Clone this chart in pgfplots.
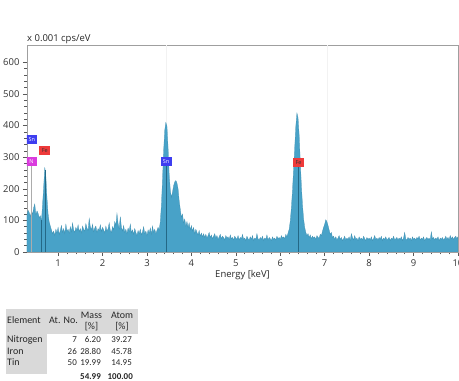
\documentclass[border=0pt]{standalone}
\usepackage{fontspec}
\setmainfont{Open Sans}
\newfontfamily\tablefont{Carlito}
\usepackage{pgfplots}
\pgfplotsset{compat=1.18}

\definecolor{spec}{RGB}{72,162,200}
\definecolor{specdark}{RGB}{36,104,134}
\definecolor{snblue}{RGB}{62,62,240}
\definecolor{fered}{RGB}{238,58,58}
\definecolor{nmag}{RGB}{218,60,222}
\definecolor{hdrgray}{RGB}{217,217,217}

\tikzset{elem/.style={font=\fontsize{5.5}{6}\selectfont, inner sep=1bp,
  minimum width=11bp, minimum height=9bp}}

\begin{document}
\begin{tikzpicture}
\useasboundingbox (0,0) rectangle (459bp,381bp);
\begin{axis}[
  name=spec,
  at={(27bp,129bp)}, anchor=south west,
  scale only axis, width=431bp, height=207bp,
  xmin=0.3, xmax=10, ymin=0, ymax=655,
  xtick={1,...,10}, ytick={0,100,...,600},
  minor x tick num=4, minor y tick num=4,
  xtick pos=left, ytick pos=left,
  tick align=outside, major tick length=4bp, minor tick length=2.5bp,
  tick style={gray!70!black, line width=0.5pt},
  axis line style={gray!75, line width=0.6pt},
  tick label style={font=\fontsize{9.5}{11}\selectfont, text=black!80},
  /pgf/number format/assume math mode=true,
  xlabel={Energy [keV]},
  xlabel style={font=\fontsize{9.5}{11}\selectfont, text=black!85, yshift=3bp},
]
% faint element reference lines
\draw[gray!10, line width=0.5pt] (axis cs:3.44,0) -- (axis cs:3.44,655);
\draw[gray!10, line width=0.5pt] (axis cs:7.06,0) -- (axis cs:7.06,655);

% EDS spectrum, counts per channel
\addplot[fill=spec, draw=spec!88!black, line width=0.25pt] coordinates {
(0.300,118)(0.325,132)(0.350,125)(0.375,112)(0.400,128)(0.425,120)(0.450,140)(0.475,152)(0.500,118)(0.525,130)(0.550,122)(0.575,108)(0.600,115)
(0.625,98)(0.650,150)(0.675,205)(0.700,268)(0.725,238)(0.750,170)(0.775,120)(0.800,95)(0.825,82)(0.850,70)(0.875,58)(0.900,66)(0.925,52)(0.950,72)(0.975,60)
(1.000,78)(1.025,55)(1.050,68)(1.075,84)(1.100,62)(1.125,74)(1.150,58)(1.175,88)(1.200,66)(1.225,72)(1.250,60)(1.275,80)(1.300,64)(1.325,92)(1.350,70)(1.375,62)(1.400,78)(1.425,68)(1.450,86)(1.475,64)
(1.500,74)(1.525,60)(1.550,82)(1.575,72)(1.600,66)(1.625,90)(1.650,76)(1.675,68)(1.700,106)(1.725,80)(1.750,70)(1.775,88)(1.800,64)(1.825,76)(1.850,82)(1.875,62)(1.900,74)(1.925,68)(1.950,86)(1.975,64)
(2.000,78)(2.025,70)(2.050,60)(2.075,82)(2.100,66)(2.125,74)(2.150,92)(2.175,68)(2.200,62)(2.225,80)(2.250,70)(2.275,96)(2.300,84)(2.325,122)(2.350,90)(2.375,74)(2.400,112)(2.425,78)(2.450,66)(2.475,84)
(2.500,62)(2.525,72)(2.550,58)(2.575,76)(2.600,66)(2.625,88)(2.650,60)(2.675,70)(2.700,56)(2.725,74)(2.750,62)(2.775,52)(2.800,68)(2.825,58)(2.850,72)(2.875,54)(2.900,64)(2.925,80)(2.950,58)(2.975,66)
(3.000,52)(3.025,70)(3.050,60)(3.075,76)(3.100,56)(3.125,82)(3.150,62)(3.175,72)(3.200,58)(3.225,68)(3.250,78)(3.275,70)(3.300,96)(3.325,148)(3.350,230)(3.375,320)(3.400,385)(3.425,410)(3.450,398)(3.475,330)
(3.500,245)(3.525,196)(3.550,172)(3.575,190)(3.600,210)(3.625,222)(3.650,226)(3.675,218)(3.700,200)(3.725,162)(3.750,135)(3.775,110)(3.800,120)(3.825,92)(3.850,104)(3.875,82)(3.900,96)(3.925,78)(3.950,92)(3.975,70)
(4.000,84)(4.025,66)(4.050,78)(4.075,58)(4.100,72)(4.125,62)(4.150,54)(4.175,68)(4.200,50)(4.225,60)(4.250,48)(4.275,58)(4.300,46)(4.325,56)(4.350,44)(4.375,52)(4.400,62)(4.425,46)(4.450,54)(4.475,42)
(4.500,50)(4.525,58)(4.550,44)(4.575,52)(4.600,40)(4.625,48)(4.650,56)(4.675,42)(4.700,50)(4.725,46)(4.750,38)(4.775,52)(4.800,44)(4.825,48)(4.850,40)(4.875,54)(4.900,42)(4.925,46)(4.950,38)(4.975,50)
(5.000,44)(5.025,40)(5.050,52)(5.075,38)(5.100,46)(5.125,42)(5.150,56)(5.175,40)(5.200,44)(5.225,36)(5.250,50)(5.275,42)(5.300,38)(5.325,48)(5.350,40)(5.375,52)(5.400,36)(5.425,44)(5.450,40)(5.475,58)
(5.500,42)(5.525,38)(5.550,46)(5.575,40)(5.600,50)(5.625,36)(5.650,44)(5.675,40)(5.700,54)(5.725,38)(5.750,46)(5.775,42)(5.800,36)(5.825,48)(5.850,40)(5.875,44)(5.900,38)(5.925,50)(5.950,42)(5.975,46)
(6.000,40)(6.025,52)(6.050,44)(6.075,48)(6.100,42)(6.125,56)(6.150,48)(6.175,60)(6.200,72)(6.225,98)(6.250,140)(6.275,195)(6.300,262)(6.325,330)(6.350,398)(6.375,440)(6.400,425)(6.425,370)(6.450,290)(6.475,210)
(6.500,150)(6.525,105)(6.550,78)(6.575,62)(6.600,52)(6.625,58)(6.650,46)(6.675,54)(6.700,42)(6.725,50)(6.750,44)(6.775,48)(6.800,40)(6.825,52)(6.850,46)(6.875,44)(6.900,56)(6.925,52)(6.950,66)(6.975,78)
(7.000,88)(7.025,102)(7.050,96)(7.075,84)(7.100,70)(7.125,56)(7.150,62)(7.175,46)(7.200,50)(7.225,40)(7.250,48)(7.275,38)(7.300,44)(7.325,52)(7.350,40)(7.375,46)(7.400,36)(7.425,42)(7.450,50)(7.475,38)
(7.500,44)(7.525,40)(7.550,48)(7.575,36)(7.600,58)(7.625,46)(7.650,38)(7.675,52)(7.700,40)(7.725,44)(7.750,36)(7.775,48)(7.800,40)(7.825,44)(7.850,38)(7.875,50)(7.900,42)(7.925,36)(7.950,46)(7.975,40)
(8.000,44)(8.025,38)(8.050,48)(8.075,36)(8.100,42)(8.125,52)(8.150,40)(8.175,44)(8.200,38)(8.225,46)(8.250,40)(8.275,50)(8.300,36)(8.325,44)(8.350,40)(8.375,48)(8.400,38)(8.425,42)(8.450,46)(8.475,36)
(8.500,44)(8.525,40)(8.550,50)(8.575,38)(8.600,42)(8.625,46)(8.650,38)(8.675,44)(8.700,40)(8.725,48)(8.750,36)(8.775,44)(8.800,62)(8.825,42)(8.850,38)(8.875,46)(8.900,40)(8.925,44)(8.950,36)(8.975,48)
(9.000,40)(9.025,44)(9.050,38)(9.075,46)(9.100,42)(9.125,50)(9.150,38)(9.175,44)(9.200,40)(9.225,48)(9.250,36)(9.275,42)(9.300,46)(9.325,40)(9.350,44)(9.375,38)(9.400,64)(9.425,42)(9.450,46)(9.475,38)
(9.500,44)(9.525,40)(9.550,48)(9.575,36)(9.600,44)(9.625,40)(9.650,46)(9.675,38)(9.700,42)(9.725,50)(9.750,40)(9.775,46)(9.800,38)(9.825,52)(9.850,42)(9.875,48)(9.900,40)(9.925,46)(9.950,50)(9.975,42)
(10.000,48)
} \closedcycle;

% element line markers
\draw[gray!65, line width=0.4pt] (axis cs:0.39,0) -- (axis cs:0.39,280);
\draw[specdark, line width=0.4pt] (axis cs:0.615,0) -- (axis cs:0.615,100);
\draw[specdark, line width=0.4pt] (axis cs:0.705,0) -- (axis cs:0.705,260);
\draw[specdark, line width=0.4pt] (axis cs:3.44,0) -- (axis cs:3.44,280);
\draw[specdark, line width=0.4pt] (axis cs:6.40,0) -- (axis cs:6.40,280);

% element labels
\node[elem, fill=snblue, text=white] at (axis cs:0.41,357) {Sn};
\node[elem, fill=fered, text=black!80] at (axis cs:0.70,322) {Fe};
\node[elem, fill=nmag, text=white] at (axis cs:0.40,286) {N};
\node[elem, fill=snblue, text=white] at (axis cs:3.43,287) {Sn};
\node[elem, fill=fered, text=black!80] at (axis cs:6.41,284) {Fe};
\end{axis}

% unit label above the y axis
\node[anchor=base west, inner sep=0pt, font=\fontsize{9.5}{11}\selectfont, text=black!85]
  at ([yshift=3.5bp]spec.north west) {x 0.001 cps/eV};

% quantification table
\fill[hdrgray] (6bp,47bp) rectangle (138bp,72bp);
\fill[hdrgray] (6bp,7bp) rectangle (47bp,47bp);
\begin{scope}[every node/.style={inner sep=0pt, text=black!85},
  txt/.style={font=\tablefont\fontsize{10}{11}\selectfont},
  num/.style={font=\tablefont\fontsize{9}{10}\selectfont}]
\node[txt, anchor=mid west] at (7bp,60bp) {Element};
\node[txt, anchor=mid west] at (49bp,60bp) {At. No.};
\node[txt, anchor=mid] at (91.5bp,65bp) {Mass};
\node[txt, anchor=mid] at (91.5bp,54bp) {[\%]};
\node[txt, anchor=mid] at (122bp,65bp) {Atom};
\node[txt, anchor=mid] at (122bp,54bp) {[\%]};
\node[txt, anchor=mid west] at (7bp,41bp) {Nitrogen};
\node[num, anchor=mid east] at (77bp,41bp) {7};
\node[num, anchor=mid east] at (101bp,41bp) {6.20};
\node[num, anchor=mid east] at (132bp,41bp) {39.27};
\node[txt, anchor=mid west] at (7bp,29bp) {Iron};
\node[num, anchor=mid east] at (77bp,29bp) {26};
\node[num, anchor=mid east] at (101bp,29bp) {28.80};
\node[num, anchor=mid east] at (132bp,29bp) {45.78};
\node[txt, anchor=mid west] at (7bp,18bp) {Tin};
\node[num, anchor=mid east] at (77bp,18bp) {50};
\node[num, anchor=mid east] at (101bp,18bp) {19.99};
\node[num, anchor=mid east] at (132bp,18bp) {14.95};
\node[num, anchor=mid east] at (101bp,4bp) {\bfseries 54.99};
\node[num, anchor=mid east] at (133bp,4bp) {\bfseries 100.00};
\end{scope}
\end{tikzpicture}
\end{document}
